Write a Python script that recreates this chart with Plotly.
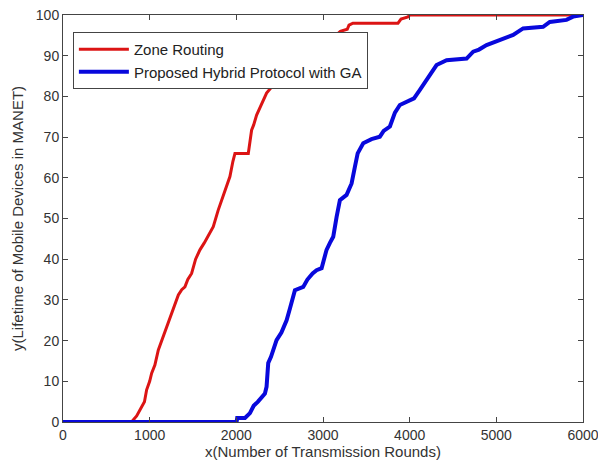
import plotly.graph_objects as go

# Zone Routing (red)
zone_x = [0, 790, 850, 907, 940, 965, 1000, 1023, 1060, 1100, 1140, 1177, 1210, 1254, 1290,
          1331, 1370, 1407, 1440, 1484, 1530, 1580, 1630, 1680, 1734, 1790, 1849, 1890, 1926,
          1960, 1984, 2100, 2138, 2176, 2200, 2234, 2290, 2349, 2426, 2503, 2600, 2800, 3000,
          3150, 3200, 3280, 3300, 3345, 3865, 3900, 3980, 4000, 6000]
zone_y = [0, 0, 1.5, 3.8, 5, 7.9, 10, 12, 14, 17.7, 20, 22.2, 24, 26.7, 29,
          31.2, 32.5, 33.2, 35, 36.5, 40, 42.3, 44, 46, 48, 52, 55.4, 58, 60.3,
          64, 66, 66, 66, 71.7, 73, 75.4, 78, 80.8, 82.8, 83.2, 86, 89, 92,
          95, 96, 96.5, 97.5, 98, 98, 99, 99.5, 100, 100]

# Proposed Hybrid Protocol with GA (blue)
ga_x = [0, 2003, 2010, 2100, 2157, 2200, 2250, 2292, 2330, 2349, 2368, 2400, 2430, 2464,
        2520, 2580, 2620, 2676, 2772, 2820, 2880, 2926, 2984, 3041, 3080, 3118, 3157, 3195,
        3272, 3330, 3368, 3400, 3464, 3560, 3656, 3700, 3772, 3830, 3887, 3950, 4050, 4118,
        4195, 4250, 4310, 4426, 4657, 4733, 4800, 4887, 5040, 5194, 5309, 5540, 5617, 5809,
        5886, 5963, 6000]
ga_y = [0, 0, 1, 1, 2.2, 4, 5, 5.9, 7, 8.7, 14.5, 16, 18, 20.1,
        22, 25, 28, 32.4, 33.2, 35, 36.5, 37.3, 37.8, 42.3, 44, 45.5, 50.4, 54.5,
        55.8, 58.6, 62.7, 66, 68.5, 69.5, 70.1, 71.5, 72.6, 76, 77.9, 78.5, 79.5, 81.6,
        84, 86, 87.7, 88.9, 89.3, 91, 91.5, 92.6, 93.9, 95.1, 96.7, 97.1, 98.3, 98.8,
        99.6, 100, 100]

x_ticks = [0, 1000, 2000, 3000, 4000, 5000, 6000]
y_ticks = [0, 10, 20, 30, 40, 50, 60, 70, 80, 90, 100]

FONT = "Liberation Sans, Arial, sans-serif"

fig = go.Figure()
fig.add_trace(go.Scatter(x=zone_x, y=zone_y, mode="lines", name="Zone Routing",
                         line=dict(color="#dc1414", width=3)))
fig.add_trace(go.Scatter(x=ga_x, y=ga_y, mode="lines", name="Proposed Hybrid Protocol with GA",
                         line=dict(color="#0808dc", width=4)))

axis_common = dict(showgrid=False, zeroline=False, showline=True, linecolor="#444",
                   linewidth=1, mirror="allticks", ticks="inside", ticklen=5,
                   tickcolor="#444", automargin=False, ticklabeloverflow="allow",
                   tickfont=dict(family=FONT, size=14, color="#333"))

fig.update_layout(
    width=598, height=466,
    margin=dict(l=63, r=15, t=15, b=44),
    paper_bgcolor="white", plot_bgcolor="white",
    font=dict(family=FONT, color="#333"),
    xaxis=dict(range=[0, 6000], tickvals=x_ticks, ticktext=[str(v) for v in x_ticks],
               title=dict(text="x(Number of Transmission Rounds)", font=dict(family=FONT, size=15, color="#333"),
                          standoff=2),
               **axis_common),
    yaxis=dict(range=[0, 100], tickvals=y_ticks, ticktext=[str(v) for v in y_ticks],
               title=dict(text="y(Lifetime of Mobile Devices in MANET)", font=dict(family=FONT, size=15, color="#333"),
                          standoff=8),
               **axis_common),
    legend=dict(x=0.019, y=0.958, xanchor="left", yanchor="top",
                bgcolor="white", bordercolor="#444", borderwidth=1,
                font=dict(family=FONT, size=15, color="#222"), itemwidth=50),
    showlegend=True,
)

fig.write_html("out.html")
